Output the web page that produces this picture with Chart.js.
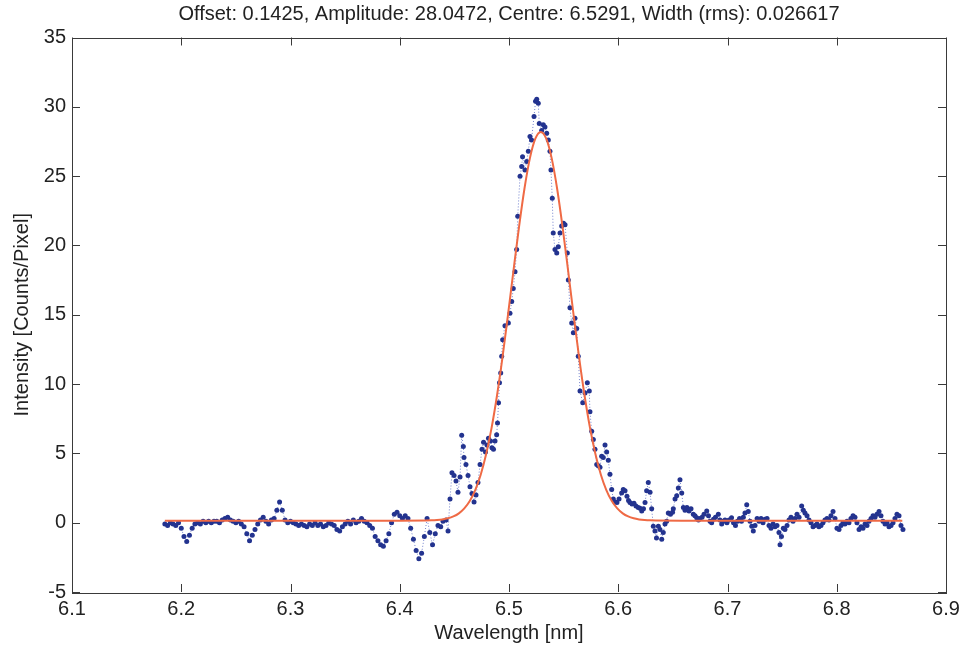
<!DOCTYPE html>
<html>
<head>
<meta charset="utf-8">
<script src="https://cdn.jsdelivr.net/npm/chart.js@4.4.0/dist/chart.umd.min.js"></script>
<style>
  html, body { margin: 0; padding: 0; background: #ffffff; }
  #wrap { width: 961px; height: 646px; }
</style>
</head>
<body>
<div id="wrap"><canvas id="c" width="961" height="646"></canvas></div>
<script>
// ---- measured spectrum (wavelength in nm, intensity in counts/pixel) ----
const wavelength = [
6.185,6.1875,6.19,6.1925,6.195,6.1975,6.2,6.2025,6.205,6.2075,6.21,6.2125,6.215,6.2175,6.22,6.2225,6.225,6.2275,6.23,6.2325,
6.235,6.2375,6.24,6.2425,6.245,6.2475,6.25,6.2525,6.255,6.2575,6.26,6.2625,6.265,6.2675,6.27,6.2725,6.275,6.2775,6.28,6.2825,
6.285,6.2875,6.29,6.2925,6.295,6.2975,6.3,6.3025,6.305,6.3075,6.31,6.3125,6.315,6.3175,6.32,6.3225,6.325,6.3275,6.33,6.3325,
6.335,6.3375,6.34,6.3425,6.345,6.3475,6.35,6.3525,6.355,6.3575,6.36,6.3625,6.365,6.3675,6.37,6.3725,6.375,6.3775,6.38,6.3825,
6.385,6.3875,6.39,6.3925,6.395,6.3975,6.4,6.4025,6.405,6.4075,6.41,6.4125,6.415,6.4175,6.42,6.4225,6.425,6.4275,6.43,6.4325,
6.435,6.4375,
6.4396,6.4424,6.4442,6.4460,6.4478,6.4497,6.4515,6.4533,6.4552,6.4567,6.4582,6.4588,6.4606,6.4625,6.4643,6.4661,6.4680,6.4698,
6.4716,6.4735,6.4753,6.4767,6.4785,6.4799,6.4812,6.4831,6.4844,6.4858,6.4872,6.4887,6.4895,6.4904,6.4913,6.4924,6.4933,6.4942,
6.4963,6.4994,6.5009,6.5025,6.5039,6.5055,6.5070,6.5080,6.5101,6.5116,6.5124,6.5146,6.5162,6.5177,6.5192,6.5206,6.5229,6.5243,
6.5254,6.5268,6.5277,6.5299,6.5314,6.5329,6.5345,6.5360,6.5375,6.5384,6.5396,6.5405,6.5421,6.5437,6.5451,6.5467,6.5482,6.5499,
6.5513,6.5534,6.5543,6.5558,6.5574,6.5589,6.5604,6.5620,6.5634,6.5650,6.5675,6.5696,6.5717,6.5735,6.5741,6.5757,6.5772,6.5787,
6.5803,6.5817,6.5833,6.5848,6.5863,6.5879,6.5894,6.5909,6.5924,6.5940,6.5955,6.5970,6.5988,6.6007,6.6031,6.6046,6.6062,6.6080,
6.6094,6.6107,6.6126,6.6144,6.6162,6.6183,6.6199,6.6215,6.6231,6.6245,6.6260,6.6275,6.6291,6.6306,6.6321,6.6336,6.6350,6.6367,
6.6382,6.6398,6.6412,6.6428,6.6443,6.6458,6.6478,6.6497,6.6504,6.6520,6.6535,6.6550,6.6565,6.6581,6.6596,6.6611,6.6629,6.6648,
6.6666,6.6687,6.6702,6.6718,6.6734,6.6748,6.6767,6.6785,6.6810,6.6826,6.6840,6.6855,6.6872,6.6890,6.6916,6.6931,6.6947,6.6963,
6.6977,6.6995,6.7014,6.7037,6.7055,6.7073,6.7091,6.7110,6.7128,6.7145,6.7160,6.7176,6.7190,6.7206,6.7222,6.7236,6.7252,6.7271,
6.7289,6.7307,6.7325,6.7343,6.7362,6.7380,6.7398,6.7417,6.7435,6.7453,6.7471,6.7481,6.7494,6.7511,6.7526,6.7545,6.7563,6.7581,
6.7600,6.7618,6.7636,6.7655,6.7679,6.7694,6.7709,6.7728,6.7746,6.7764,6.7783,6.7801,6.7819,6.7837,6.7856,6.7874,6.7892,6.7911,
6.7929,6.7947,6.7966,6.7984,6.8002,6.8021,6.8039,6.8057,6.8075,6.8094,6.8112,6.8130,6.8149,6.8167,6.8185,6.8204,6.8222,6.8240,
6.8259,6.8277,6.8295,6.8314,6.8332,6.8350,6.8368,6.8387,6.8405,6.8423,6.8442,6.8460,6.8478,6.8497,6.8515,6.8533,6.8551,6.8570,
6.8588,6.8606
];
const intensity = [
-0.1,-0.2,0.0,-0.1,-0.2,0.0,-0.4,-1.0,-1.35,-0.9,-0.4,-0.1,0.0,-0.1,0.1,0.0,0.1,0.0,0.1,0.1,
0.0,0.2,0.3,0.4,0.2,0.1,0.0,0.1,-0.1,-0.3,-0.8,-1.3,-0.9,-0.5,-0.1,0.2,0.4,0.1,-0.1,0.2,
0.3,0.9,1.5,0.9,0.2,0.0,0.1,0.0,-0.1,-0.2,-0.1,-0.2,-0.3,-0.1,-0.2,0.0,-0.2,-0.1,-0.3,-0.2,
0.0,-0.1,-0.2,-0.5,-0.6,-0.3,-0.1,0.1,-0.1,0.2,0.0,0.1,0.3,0.1,0.0,-0.2,-0.4,-1.0,-1.3,-1.6,
-1.7,-1.3,-0.8,0.0,0.6,0.75,0.5,0.3,0.5,0.3,-0.4,-1.2,-2.0,-2.6,-2.2,-1.0,0.3,-0.7,-1.6,-0.8,
-0.2,-0.3,
0.1,0.2,-0.6,1.7,3.6,3.4,3.0,2.2,3.3,6.3,5.5,4.7,4.2,3.4,2.6,2.1,1.5,2.0,
2.9,4.2,5.3,5.8,5.1,5.6,6.1,5.9,5.4,5.3,5.9,6.35,7.2,8.65,10.1,10.8,12.0,13.2,
14.2,14.4,15.1,15.95,16.9,18.1,19.7,22.1,25.0,25.7,26.4,25.45,26.05,26.8,27.85,27.6,29.3,30.4,
30.55,30.25,28.8,28.3,28.7,28.55,28.1,27.6,26.8,25.45,23.4,20.9,19.7,19.45,19.9,20.9,21.4,21.6,
21.5,19.45,17.5,15.5,14.4,13.7,14.75,14.0,12.0,9.5,8.65,9.35,10.1,9.5,8.0,6.6,6.0,5.3,
4.2,4.1,4.0,4.8,4.7,5.6,5.1,4.5,3.5,2.4,1.7,1.5,1.45,1.7,2.15,2.4,2.3,1.9,
1.6,1.45,1.35,1.4,1.2,1.1,1.05,0.85,1.0,1.45,2.3,2.9,2.2,1.0,-0.25,-0.6,-1.1,-0.25,
-0.5,-1.2,-0.7,-0.1,0.1,0.7,0.6,0.75,1.0,1.7,1.95,2.5,3.1,2.15,1.1,0.9,1.1,0.85,
1.0,0.6,0.5,0.35,0.2,0.3,0.4,0.6,0.85,0.5,0.1,0.0,0.25,0.4,0.6,0.2,-0.1,0.1,
0.2,0.0,0.2,0.35,0.0,-0.2,0.1,0.3,0.1,0.4,0.7,1.3,0.8,0.1,-0.25,-0.6,-0.2,0.3,
0.1,0.3,0.0,0.25,0.3,-0.2,-0.4,-0.1,-0.3,-0.2,-0.7,-1.6,-1.0,-0.4,-0.5,-0.2,0.2,0.4,
0.1,0.3,0.6,0.4,1.2,0.9,0.7,0.5,0.2,0.0,-0.3,-0.2,-0.1,-0.3,-0.2,0.0,0.2,0.3,
0.2,0.5,0.8,0.3,-0.4,-0.5,-0.2,0.0,-0.1,0.1,0.0,0.3,0.5,0.4,0.0,-0.5,-0.3,-0.4,
-0.1,-0.2,0.1,0.3,0.5,0.4,0.6,0.8,0.5,0.1,-0.1,0.0,-0.3,-0.2,0.0,0.3,0.6,0.5,
-0.2,-0.5
];

// ---- Gaussian fit values (Offset 0.1425, Amplitude 28.0472, Centre 6.5291, Width 0.026617) ----
const fitWavelength = [
6.185,6.40,6.4291,6.4341,6.4391,6.4441,6.4491,6.4541,6.4591,6.4641,6.4691,6.4741,6.4791,6.4841,6.4891,6.4941,6.4991,
6.5041,6.5091,6.5141,6.5191,6.5241,6.5291,6.5341,6.5391,6.5441,6.5491,6.5541,6.5591,6.5641,6.5691,6.5741,6.5791,
6.5841,6.5891,6.5941,6.5991,6.6041,6.6091,6.6141,6.6191,6.6241,6.6291,6.658,6.86
];
const fitIntensity = [
0.1425,0.143,0.167,0.190,0.235,0.314,0.449,0.672,1.03,1.56,2.35,3.46,4.95,6.86,9.21,11.96,15.00,
18.19,21.29,24.07,26.28,27.70,28.19,27.70,26.28,24.07,21.29,18.19,15.00,11.96,9.21,6.86,4.95,
3.46,2.35,1.56,1.03,0.672,0.449,0.314,0.235,0.190,0.167,0.143,0.1425
];

const chartTitle = 'Offset: 0.1425, Amplitude: 28.0472, Centre: 6.5291, Width (rms): 0.026617';
const xAxisTitle = 'Wavelength [nm]';
const yAxisTitle = 'Intensity [Counts/Pixel]';
const xTickRange = [6.1, 6.9, 0.1];
const yTickRange = [-5, 35, 5];

const FONT = "'Liberation Sans', Arial, Helvetica, sans-serif";

const framePlugin = {
  id: 'frameTicks',
  afterDatasetsDraw(chart) {
    const { ctx, chartArea: a, scales: { x, y } } = chart;
    const L = 8;
    ctx.save();
    ctx.strokeStyle = '#3a3a3a';
    ctx.lineWidth = 1;
    ctx.beginPath();
    x.ticks.forEach(t => {
      const px = Math.round(x.getPixelForValue(t.value)) + 0.5;
      ctx.moveTo(px, a.bottom); ctx.lineTo(px, a.bottom - L);
      ctx.moveTo(px, a.top); ctx.lineTo(px, a.top + L);
    });
    y.ticks.forEach(t => {
      const py = Math.round(y.getPixelForValue(t.value)) + 0.5;
      ctx.moveTo(a.left, py); ctx.lineTo(a.left + L, py);
      ctx.moveTo(a.right, py); ctx.lineTo(a.right - L, py);
    });
    ctx.stroke();
    ctx.strokeRect(Math.round(a.left) + 0.5, Math.round(a.top) + 0.5,
                   Math.round(a.right - a.left), Math.round(a.bottom - a.top));
    ctx.restore();
  }
};

new Chart(document.getElementById('c'), {
  type: 'line',
  data: {
    datasets: [
      {
        label: 'Fit',
        data: fitWavelength.map((w, i) => ({ x: w, y: fitIntensity[i] })),
        borderColor: '#ef6a45',
        borderWidth: 2,
        pointRadius: 0,
        cubicInterpolationMode: 'monotone',
        fill: false
      },
      {
        label: 'Data',
        data: wavelength.map((w, i) => ({ x: w, y: intensity[i] })),
        borderColor: 'rgba(70,90,190,0.75)',
        borderWidth: 1,
        borderDash: [1, 2],
        pointRadius: 2.5,
        pointBackgroundColor: '#23338f',
        pointBorderWidth: 0,
        tension: 0,
        fill: false
      }
    ]
  },
  options: {
    responsive: false,
    animation: false,
    devicePixelRatio: 1,
    layout: { padding: { left: 0, right: 15, top: 0, bottom: 0 } },
    plugins: {
      legend: { display: false },
      tooltip: { enabled: false },
      title: {
        display: true,
        fullSize: false,
        text: chartTitle,
        color: '#222',
        font: { family: FONT, size: 20, weight: 'normal' },
        padding: { top: 2, bottom: 11.5 }
      }
    },
    scales: {
      x: {
        type: 'linear',
        min: xTickRange[0], max: xTickRange[1],
        grid: { display: false, drawTicks: false },
        border: { display: false },
        ticks: {
          stepSize: xTickRange[2],
          color: '#222',
          padding: 5,
          maxRotation: 0,
          font: { family: FONT, size: 20 },
          callback: v => Number(v).toFixed(1)
        },
        title: {
          display: true, text: xAxisTitle, color: '#222',
          font: { family: FONT, size: 20 }, padding: { top: 0, bottom: 1 }
        },
        afterFit(s) { s.height = 54; s.paddingLeft = 0; s.paddingRight = 0; }
      },
      y: {
        type: 'linear',
        min: yTickRange[0], max: yTickRange[1],
        grid: { display: false, drawTicks: false },
        border: { display: false },
        ticks: {
          stepSize: yTickRange[2],
          color: '#222',
          padding: 6,
          font: { family: FONT, size: 20 },
          callback: v => String(v)
        },
        title: {
          display: true, text: yAxisTitle, color: '#222',
          font: { family: FONT, size: 20 }, padding: { top: 10, bottom: 0 }
        },
        afterFit(s) { s.width = 72; s.paddingTop = 0; s.paddingBottom = 0; }
      }
    }
  },
  plugins: [framePlugin]
});
</script>
</body>
</html>
